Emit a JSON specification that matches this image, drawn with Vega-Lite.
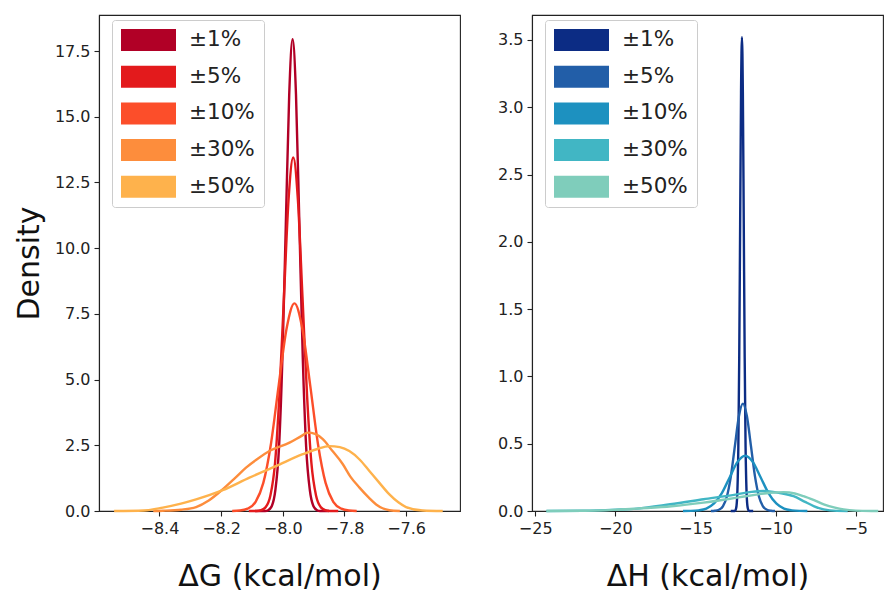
{
  "$schema": "https://vega.github.io/schema/vega-lite/v6.json",
  "padding": {"left": 13, "top": 14, "right": 0, "bottom": 0},
  "spacing": 36,
  "config": {
    "font": "DejaVu Sans",
    "view": {"stroke": "#222222", "strokeWidth": 1.1},
    "axis": {
      "grid": false,
      "domainColor": "#222222",
      "domainWidth": 1.1,
      "tickColor": "#222222",
      "tickSize": 5,
      "tickWidth": 1.1,
      "labelFont": "DejaVu Sans",
      "labelFontSize": 16,
      "labelColor": "#222222",
      "labelPadding": 4,
      "titleFont": "DejaVu Sans",
      "titleFontSize": 30,
      "titleFontWeight": "normal",
      "titleColor": "#111111"
    },
    "legend": {
      "title": null,
      "orient": "none",
      "symbolType": "M-1,-1H4V1H-1Z",
      "symbolSize": 484,
      "symbolStrokeWidth": 0,
      "symbolOpacity": 1,
      "labelFont": "DejaVu Sans",
      "labelFontSize": 21.5,
      "labelColor": "#222222",
      "labelOffset": 46,
      "labelLimit": 0,
      "rowPadding": 14.7,
      "padding": 9,
      "fillColor": "white",
      "strokeColor": "#cccccc",
      "cornerRadius": 3
    }
  },
  "resolve": {"scale": {"color": "independent", "x": "independent", "y": "independent"}, "legend": {"color": "independent"}},
  "hconcat": [
    {
      "width": 361,
      "height": 496,
      "data": {"values": [
        {"s": "±1%", "x": -8.09, "d": 0},
        {"s": "±1%", "x": -8.057, "d": 0},
        {"s": "±1%", "x": -8.046, "d": 0.04},
        {"s": "±1%", "x": -8.035, "d": 0.2},
        {"s": "±1%", "x": -8.024, "d": 0.79},
        {"s": "±1%", "x": -8.012, "d": 2.43},
        {"s": "±1%", "x": -8.001, "d": 5.83},
        {"s": "±1%", "x": -7.99, "d": 10.89},
        {"s": "±1%", "x": -7.979, "d": 15.84},
        {"s": "±1%", "x": -7.968, "d": 17.95},
        {"s": "±1%", "x": -7.957, "d": 15.84},
        {"s": "±1%", "x": -7.946, "d": 10.89},
        {"s": "±1%", "x": -7.935, "d": 5.83},
        {"s": "±1%", "x": -7.924, "d": 2.43},
        {"s": "±1%", "x": -7.912, "d": 0.79},
        {"s": "±1%", "x": -7.901, "d": 0.2},
        {"s": "±1%", "x": -7.89, "d": 0.04},
        {"s": "±1%", "x": -7.879, "d": 0},
        {"s": "±1%", "x": -7.85, "d": 0},
        {"s": "±5%", "x": -8.11, "d": 0},
        {"s": "±5%", "x": -8.085, "d": 0},
        {"s": "±5%", "x": -8.07, "d": 0.03},
        {"s": "±5%", "x": -8.055, "d": 0.15},
        {"s": "±5%", "x": -8.04, "d": 0.59},
        {"s": "±5%", "x": -8.025, "d": 1.82},
        {"s": "±5%", "x": -8.011, "d": 4.37},
        {"s": "±5%", "x": -7.996, "d": 8.16},
        {"s": "±5%", "x": -7.981, "d": 11.87},
        {"s": "±5%", "x": -7.966, "d": 13.45},
        {"s": "±5%", "x": -7.951, "d": 11.87},
        {"s": "±5%", "x": -7.936, "d": 8.16},
        {"s": "±5%", "x": -7.921, "d": 4.37},
        {"s": "±5%", "x": -7.907, "d": 1.82},
        {"s": "±5%", "x": -7.892, "d": 0.59},
        {"s": "±5%", "x": -7.877, "d": 0.15},
        {"s": "±5%", "x": -7.862, "d": 0.03},
        {"s": "±5%", "x": -7.847, "d": 0},
        {"s": "±5%", "x": -7.82, "d": 0},
        {"s": "±10%", "x": -8.164, "d": 0},
        {"s": "±10%", "x": -8.139, "d": 0.017},
        {"s": "±10%", "x": -8.114, "d": 0.088},
        {"s": "±10%", "x": -8.088, "d": 0.35},
        {"s": "±10%", "x": -8.063, "d": 1.07},
        {"s": "±10%", "x": -8.038, "d": 2.57},
        {"s": "±10%", "x": -8.013, "d": 4.79},
        {"s": "±10%", "x": -7.987, "d": 6.97},
        {"s": "±10%", "x": -7.962, "d": 7.9},
        {"s": "±10%", "x": -7.937, "d": 6.97},
        {"s": "±10%", "x": -7.911, "d": 4.79},
        {"s": "±10%", "x": -7.886, "d": 2.57},
        {"s": "±10%", "x": -7.861, "d": 1.07},
        {"s": "±10%", "x": -7.836, "d": 0.35},
        {"s": "±10%", "x": -7.81, "d": 0.088},
        {"s": "±10%", "x": -7.785, "d": 0.017},
        {"s": "±10%", "x": -7.76, "d": 0},
        {"s": "±30%", "x": -8.42, "d": 0},
        {"s": "±30%", "x": -8.389, "d": 0.01},
        {"s": "±30%", "x": -8.33, "d": 0.05},
        {"s": "±30%", "x": -8.281, "d": 0.15},
        {"s": "±30%", "x": -8.24, "d": 0.4},
        {"s": "±30%", "x": -8.195, "d": 0.82},
        {"s": "±30%", "x": -8.155, "d": 1.25},
        {"s": "±30%", "x": -8.119, "d": 1.65},
        {"s": "±30%", "x": -8.08, "d": 2.0},
        {"s": "±30%", "x": -8.043, "d": 2.28},
        {"s": "±30%", "x": -7.978, "d": 2.6},
        {"s": "±30%", "x": -7.94, "d": 2.85},
        {"s": "±30%", "x": -7.919, "d": 2.98},
        {"s": "±30%", "x": -7.895, "d": 2.93},
        {"s": "±30%", "x": -7.87, "d": 2.73},
        {"s": "±30%", "x": -7.84, "d": 2.3},
        {"s": "±30%", "x": -7.805, "d": 1.78},
        {"s": "±30%", "x": -7.78, "d": 1.3},
        {"s": "±30%", "x": -7.751, "d": 0.89},
        {"s": "±30%", "x": -7.72, "d": 0.5},
        {"s": "±30%", "x": -7.697, "d": 0.25},
        {"s": "±30%", "x": -7.654, "d": 0.03},
        {"s": "±30%", "x": -7.62, "d": 0},
        {"s": "±50%", "x": -8.547, "d": 0},
        {"s": "±50%", "x": -8.45, "d": 0.02},
        {"s": "±50%", "x": -8.389, "d": 0.13},
        {"s": "±50%", "x": -8.33, "d": 0.28},
        {"s": "±50%", "x": -8.281, "d": 0.44},
        {"s": "±50%", "x": -8.195, "d": 0.79},
        {"s": "±50%", "x": -8.108, "d": 1.27},
        {"s": "±50%", "x": -8.022, "d": 1.71},
        {"s": "±50%", "x": -7.935, "d": 2.16},
        {"s": "±50%", "x": -7.89, "d": 2.35},
        {"s": "±50%", "x": -7.849, "d": 2.47},
        {"s": "±50%", "x": -7.815, "d": 2.43},
        {"s": "±50%", "x": -7.784, "d": 2.28},
        {"s": "±50%", "x": -7.75, "d": 1.95},
        {"s": "±50%", "x": -7.719, "d": 1.52},
        {"s": "±50%", "x": -7.685, "d": 1.05},
        {"s": "±50%", "x": -7.654, "d": 0.63},
        {"s": "±50%", "x": -7.625, "d": 0.33},
        {"s": "±50%", "x": -7.6, "d": 0.15},
        {"s": "±50%", "x": -7.546, "d": 0.02},
        {"s": "±50%", "x": -7.481, "d": 0}
      ]},
      "mark": {"type": "line", "interpolate": "monotone", "strokeWidth": 2.4},
      "encoding": {
        "x": {"field": "x", "type": "quantitative",
              "scale": {"domain": [-8.596, -7.425], "nice": false, "zero": false},
              "axis": {"title": "ΔG (kcal/mol)", "values": [-8.4, -8.2, -8.0, -7.8, -7.6], "format": ".1f", "titlePadding": 25}},
        "y": {"field": "d", "type": "quantitative",
              "scale": {"domain": [0, 18.87], "nice": false},
              "axis": {"title": "Density", "values": [0, 2.5, 5, 7.5, 10, 12.5, 15, 17.5], "format": ".1f", "titlePadding": 10}},
        "color": {"field": "s", "type": "nominal",
                  "scale": {"domain": ["±1%", "±5%", "±10%", "±30%", "±50%"], "range": ["#b10026", "#e31a1c", "#fc4e2a", "#fd8d3c", "#feb24c"]},
                  "legend": {"orient": "none", "legendX": 13, "legendY": 5,
                             "encode": {"symbols": {"update": {"fill": {"signal": "datum.value === '±1%' ? '#b10026' : datum.value === '±5%' ? '#e31a1c' : datum.value === '±10%' ? '#fc4e2a' : datum.value === '±30%' ? '#fd8d3c' : '#feb24c'"}, "fillOpacity": {"value": 1}}}}}}
      }
    },
    {
      "width": 351,
      "height": 496,
      "data": {"values": [
        {"s": "±1%", "x": -12.8, "d": 0},
        {"s": "±1%", "x": -12.552, "d": 0},
        {"s": "±1%", "x": -12.496, "d": 0.008},
        {"s": "±1%", "x": -12.439, "d": 0.039},
        {"s": "±1%", "x": -12.383, "d": 0.155},
        {"s": "±1%", "x": -12.326, "d": 0.476},
        {"s": "±1%", "x": -12.27, "d": 1.14},
        {"s": "±1%", "x": -12.213, "d": 2.13},
        {"s": "±1%", "x": -12.157, "d": 3.11},
        {"s": "±1%", "x": -12.1, "d": 3.52},
        {"s": "±1%", "x": -12.044, "d": 3.11},
        {"s": "±1%", "x": -11.987, "d": 2.13},
        {"s": "±1%", "x": -11.93, "d": 1.14},
        {"s": "±1%", "x": -11.874, "d": 0.476},
        {"s": "±1%", "x": -11.817, "d": 0.155},
        {"s": "±1%", "x": -11.761, "d": 0.039},
        {"s": "±1%", "x": -11.704, "d": 0.008},
        {"s": "±1%", "x": -11.648, "d": 0},
        {"s": "±1%", "x": -11.4, "d": 0},
        {"s": "±5%", "x": -14.04, "d": 0},
        {"s": "±5%", "x": -13.79, "d": 0.002},
        {"s": "±5%", "x": -13.54, "d": 0.009},
        {"s": "±5%", "x": -13.29, "d": 0.035},
        {"s": "±5%", "x": -13.04, "d": 0.108},
        {"s": "±5%", "x": -12.79, "d": 0.259},
        {"s": "±5%", "x": -12.54, "d": 0.484},
        {"s": "±5%", "x": -12.29, "d": 0.704},
        {"s": "±5%", "x": -12.04, "d": 0.798},
        {"s": "±5%", "x": -11.79, "d": 0.704},
        {"s": "±5%", "x": -11.54, "d": 0.484},
        {"s": "±5%", "x": -11.29, "d": 0.259},
        {"s": "±5%", "x": -11.04, "d": 0.108},
        {"s": "±5%", "x": -10.79, "d": 0.035},
        {"s": "±5%", "x": -10.54, "d": 0.009},
        {"s": "±5%", "x": -10.29, "d": 0.002},
        {"s": "±5%", "x": -10.04, "d": 0},
        {"s": "±10%", "x": -15.78, "d": 0},
        {"s": "±10%", "x": -15.295, "d": 0.001},
        {"s": "±10%", "x": -14.81, "d": 0.005},
        {"s": "±10%", "x": -14.325, "d": 0.018},
        {"s": "±10%", "x": -13.84, "d": 0.056},
        {"s": "±10%", "x": -13.355, "d": 0.133},
        {"s": "±10%", "x": -12.87, "d": 0.249},
        {"s": "±10%", "x": -12.385, "d": 0.363},
        {"s": "±10%", "x": -11.9, "d": 0.411},
        {"s": "±10%", "x": -11.415, "d": 0.363},
        {"s": "±10%", "x": -10.93, "d": 0.249},
        {"s": "±10%", "x": -10.445, "d": 0.133},
        {"s": "±10%", "x": -9.96, "d": 0.056},
        {"s": "±10%", "x": -9.475, "d": 0.018},
        {"s": "±10%", "x": -8.99, "d": 0.005},
        {"s": "±10%", "x": -8.505, "d": 0.001},
        {"s": "±10%", "x": -8.02, "d": 0},
        {"s": "±30%", "x": -24.3, "d": 0},
        {"s": "±30%", "x": -22.0, "d": 0.002},
        {"s": "±30%", "x": -20.0, "d": 0.01},
        {"s": "±30%", "x": -18.66, "d": 0.018},
        {"s": "±30%", "x": -16.58, "d": 0.05},
        {"s": "±30%", "x": -14.5, "d": 0.087},
        {"s": "±30%", "x": -12.42, "d": 0.124},
        {"s": "±30%", "x": -11.5, "d": 0.142},
        {"s": "±30%", "x": -10.75, "d": 0.149},
        {"s": "±30%", "x": -9.8, "d": 0.135},
        {"s": "±30%", "x": -8.88, "d": 0.11},
        {"s": "±30%", "x": -8.2, "d": 0.07},
        {"s": "±30%", "x": -7.63, "d": 0.037},
        {"s": "±30%", "x": -7.0, "d": 0.012},
        {"s": "±30%", "x": -6.2, "d": 0.001},
        {"s": "±30%", "x": -5.5, "d": 0},
        {"s": "±50%", "x": -24.3, "d": 0},
        {"s": "±50%", "x": -22.0, "d": 0.002},
        {"s": "±50%", "x": -20.0, "d": 0.008},
        {"s": "±50%", "x": -18.66, "d": 0.018},
        {"s": "±50%", "x": -16.5, "d": 0.035},
        {"s": "±50%", "x": -14.5, "d": 0.062},
        {"s": "±50%", "x": -12.42, "d": 0.099},
        {"s": "±50%", "x": -11.3, "d": 0.12},
        {"s": "±50%", "x": -10.34, "d": 0.136},
        {"s": "±50%", "x": -9.5, "d": 0.14},
        {"s": "±50%", "x": -8.8, "d": 0.13},
        {"s": "±50%", "x": -8.26, "d": 0.11},
        {"s": "±50%", "x": -7.6, "d": 0.08},
        {"s": "±50%", "x": -7.0, "d": 0.05},
        {"s": "±50%", "x": -6.3, "d": 0.025},
        {"s": "±50%", "x": -5.76, "d": 0.012},
        {"s": "±50%", "x": -5.0, "d": 0.003},
        {"s": "±50%", "x": -4.0, "d": 0.0003},
        {"s": "±50%", "x": -3.6, "d": 0}
      ]},
      "mark": {"type": "line", "interpolate": "monotone", "strokeWidth": 2.4},
      "encoding": {
        "x": {"field": "x", "type": "quantitative",
              "scale": {"domain": [-25.2, -3.3], "nice": false, "zero": false},
              "axis": {"title": "ΔH (kcal/mol)", "values": [-25, -20, -15, -10, -5], "format": "d", "titlePadding": 25}},
        "y": {"field": "d", "type": "quantitative",
              "scale": {"domain": [0, 3.685], "nice": false},
              "axis": {"title": null, "values": [0, 0.5, 1, 1.5, 2, 2.5, 3, 3.5], "format": ".1f"}},
        "color": {"field": "s", "type": "nominal",
                  "scale": {"domain": ["±1%", "±5%", "±10%", "±30%", "±50%"], "range": ["#0c2c84", "#225ea8", "#1d91c0", "#41b6c4", "#7fcdbb"]},
                  "legend": {"orient": "none", "legendX": 13, "legendY": 5,
                             "encode": {"symbols": {"update": {"fill": {"signal": "datum.value === '±1%' ? '#0c2c84' : datum.value === '±5%' ? '#225ea8' : datum.value === '±10%' ? '#1d91c0' : datum.value === '±30%' ? '#41b6c4' : '#7fcdbb'"}, "fillOpacity": {"value": 1}}}}}}
      }
    }
  ]
}
